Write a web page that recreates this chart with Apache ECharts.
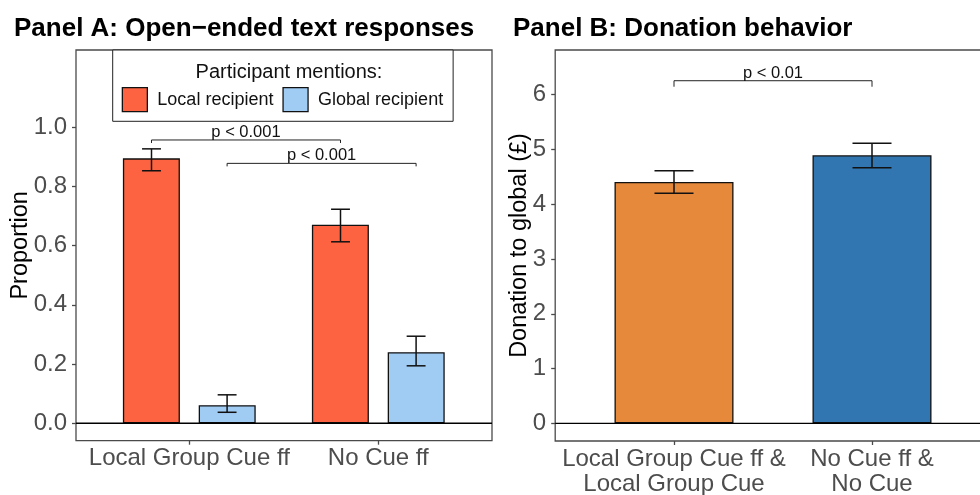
<!DOCTYPE html>
<html><head><meta charset="utf-8">
<script src="https://cdn.jsdelivr.net/npm/echarts@6/dist/echarts.min.js"></script>
<style>html,body{margin:0;padding:0;background:#fff}#c{width:980px;height:495px}</style>
</head><body><div id="c"></div>
<script>
// ---------- DATA ----------
const categoriesA = ['Local Group Cue ff', 'No Cue ff'];
const localMean  = [0.895, 0.671];
const localLow   = [0.853, 0.613];
const localHigh  = [0.927, 0.723];
const globalMean = [0.061, 0.240];
const globalLow  = [0.037, 0.194];
const globalHigh = [0.096, 0.294];
const yTicksA = [0, 0.2, 0.4, 0.6, 0.8, 1.0];
const sigA_series = ['Local recipient', 'Global recipient'];
const sigA_y = [0.957, 0.878];
const sigA_labels = ['p < 0.001', 'p < 0.001'];

const categoriesB = ['Local Group Cue ff &\nLocal Group Cue', 'No Cue ff &\nNo Cue'];
const donationMean = [4.406, 4.893];
const donationLow  = [4.199, 4.667];
const donationHigh = [4.612, 5.112];
const yTicksB = [0, 1, 2, 3, 4, 5, 6];
const sigB_y = [6.255];
const sigB_labels = ['p < 0.01'];

// ---------- STYLE ----------
const FONT = "'Liberation Sans', Arial, sans-serif";
const RED = '#FD6340', LBLUE = '#A0CCF4', ORANGE = '#E6893B', DBLUE = '#3276B1';
const FRAME = '#4a4a4a', TICKTXT = '#4D4D4D';
const A_MIN = -0.059, A_MAX = 1.261, B_MIN = -0.323, B_MAX = 6.816;
const GROUP_OFF = {'Local recipient': -0.2, 'Global recipient': 0.2};

function errRender(offFrac, capFrac) {
  return function (params, api) {
    const x = api.value(0), lo = api.value(1), hi = api.value(2);
    const band = api.size([1, 0])[0];
    const pLo = api.coord([x, lo]), pHi = api.coord([x, hi]);
    const cx = pLo[0] + offFrac * band, hw = capFrac * band;
    const st = {stroke: '#111', lineWidth: 1.5};
    return {type: 'group', children: [
      {type: 'line', shape: {x1: cx, y1: pLo[1], x2: cx, y2: pHi[1]}, style: st},
      {type: 'line', shape: {x1: cx - hw, y1: pLo[1], x2: cx + hw, y2: pLo[1]}, style: st},
      {type: 'line', shape: {x1: cx - hw, y1: pHi[1], x2: cx + hw, y2: pHi[1]}, style: st}
    ]};
  };
}
function sigRender(offs, labels, tip, fs) {
  return function (params, api) {
    const i = params.dataIndex;
    const y = api.value(2);
    const band = api.size([1, 0])[0];
    const p1 = api.coord([api.value(0), y]), p2 = api.coord([api.value(1), y]);
    const x1 = p1[0] + offs[i] * band, x2 = p2[0] + offs[i] * band;
    const st = {stroke: '#222', lineWidth: 1};
    return {type: 'group', children: [
      {type: 'polyline', shape: {points: [[x1, p1[1] + tip], [x1, p1[1]], [x2, p1[1]], [x2, p1[1] + tip]]}, style: Object.assign({fill: null}, st)},
      {type: 'text', style: {x: (x1 + x2) / 2, y: p1[1] + 1, text: labels[i], fill: '#111', font: fs + 'px ' + FONT, align: 'center', verticalAlign: 'bottom'}}
    ]};
  };
}

const gridA_frame = {left: 76, top: 50, width: 416, height: 390.7};
const gridA_bars  = {left: 94.8, top: 50, width: 378, height: 390.7};
const gridB_frame = {left: 555.2, top: 50, width: 435.6, height: 391};
const gridB_bars  = {left: 575, top: 50, width: 396, height: 391};
const noBounds = {outerBoundsMode: 'none', containLabel: false};
const frameStyle = {show: true, borderColor: FRAME, borderWidth: 1.3, backgroundColor: 'transparent', z: 0};

const catAxisCommon = {
  axisLine: {show: false, onZero: false},
  axisTick: {show: true, alignWithLabel: true, length: 4, lineStyle: {color: FRAME, width: 1.3}}
};

const option = {
  animation: false,
  textStyle: {fontFamily: FONT},
  title: [
    {text: 'Panel A: Open\u2212ended text responses', left: 9, top: 11, textStyle: {fontSize: 26, fontWeight: 'bold', color: '#000', fontFamily: FONT}},
    {text: 'Panel B: Donation behavior', left: 508, top: 11, textStyle: {fontSize: 26, fontWeight: 'bold', color: '#000', fontFamily: FONT}},
    {text: 'Participant mentions:', left: 284, textAlign: 'center', top: 57, textStyle: {fontSize: 20, fontWeight: 'normal', color: '#111', fontFamily: FONT}}
  ],
  legend: {
    data: ['Local recipient', 'Global recipient'],
    left: 112.7, top: 50,
    padding: [37, 10, 9, 9],
    itemWidth: 25, itemHeight: 24, itemGap: 9,
    icon: 'rect',
    borderColor: '#222', borderWidth: 1, backgroundColor: '#fff',
    itemStyle: {borderColor: '#111', borderWidth: 1.3},
    textStyle: {fontSize: 18, color: '#111', fontFamily: FONT, padding: [0, 0, 0, 5]},
    selectedMode: false
  },
  grid: [
    Object.assign({}, frameStyle, noBounds, gridA_frame),
    Object.assign({}, noBounds, gridA_bars),
    Object.assign({}, frameStyle, noBounds, gridB_frame),
    Object.assign({}, noBounds, gridB_bars)
  ],
  xAxis: [
    {gridIndex: 0, type: 'value', min: 0, max: 1, show: false},
    Object.assign({gridIndex: 1, type: 'category', data: categoriesA,
     axisLabel: {fontSize: 24, color: TICKTXT, margin: 6, interval: 0, fontFamily: FONT}}, catAxisCommon),
    {gridIndex: 2, type: 'value', min: 0, max: 1, show: false},
    Object.assign({gridIndex: 3, type: 'category', data: categoriesB,
     axisLabel: {fontSize: 24, color: TICKTXT, margin: 6, interval: 0, lineHeight: 25, fontFamily: FONT}}, catAxisCommon)
  ],
  yAxis: [
    {gridIndex: 0, type: 'value', min: A_MIN, max: A_MAX, name: 'Proportion', nameLocation: 'middle', nameGap: 43, nameMoveOverlap: false,
     nameTextStyle: {fontSize: 23.5, color: '#000', fontFamily: FONT},
     axisLine: {show: false}, splitLine: {show: false},
     axisTick: {show: true, length: 4, customValues: yTicksA, lineStyle: {color: FRAME, width: 1.3}},
     axisLabel: {fontSize: 24, color: TICKTXT, margin: 9, customValues: yTicksA, formatter: v => v.toFixed(1), fontFamily: FONT}},
    {gridIndex: 1, type: 'value', min: A_MIN, max: A_MAX, show: false},
    {gridIndex: 2, type: 'value', min: B_MIN, max: B_MAX, name: 'Donation to global (\u00a3)', nameLocation: 'middle', nameGap: 23.5, nameMoveOverlap: false,
     nameTextStyle: {fontSize: 23.5, color: '#000', fontFamily: FONT},
     axisLine: {show: false}, splitLine: {show: false},
     axisTick: {show: true, length: 4, customValues: yTicksB, lineStyle: {color: FRAME, width: 1.3}},
     axisLabel: {fontSize: 24, color: TICKTXT, margin: 9, customValues: yTicksB, formatter: v => String(v), fontFamily: FONT}},
    {gridIndex: 3, type: 'value', min: B_MIN, max: B_MAX, show: false}
  ],
  series: [
    {type: 'line', xAxisIndex: 0, yAxisIndex: 0, data: [[0, 0], [1, 0]], symbol: 'none', silent: true,
     lineStyle: {color: '#000', width: 1.3}, z: 4},
    {type: 'line', xAxisIndex: 2, yAxisIndex: 2, data: [[0, 0], [1, 0]], symbol: 'none', silent: true,
     lineStyle: {color: '#000', width: 1.3}, z: 4},
    {name: 'Local recipient', type: 'bar', xAxisIndex: 1, yAxisIndex: 1, data: localMean, barWidth: 57, barGap: '33%',
     itemStyle: {color: RED, borderColor: '#111', borderWidth: 1.3}, z: 2},
    {name: 'Global recipient', type: 'bar', xAxisIndex: 1, yAxisIndex: 1, data: globalMean, barWidth: 57, barGap: '33%',
     itemStyle: {color: LBLUE, borderColor: '#111', borderWidth: 1.3}, z: 2},
    {type: 'custom', xAxisIndex: 1, yAxisIndex: 1, renderItem: errRender(-0.2, 0.05), silent: true, z: 3,
     data: categoriesA.map((c, i) => [i, localLow[i], localHigh[i]])},
    {type: 'custom', xAxisIndex: 1, yAxisIndex: 1, renderItem: errRender(0.2, 0.05), silent: true, z: 3,
     data: categoriesA.map((c, i) => [i, globalLow[i], globalHigh[i]])},
    {type: 'custom', xAxisIndex: 1, yAxisIndex: 1, silent: true, z: 3,
     renderItem: sigRender(sigA_series.map(s => GROUP_OFF[s]), sigA_labels, 3, 16.5),
     data: sigA_y.map(y => [0, 1, y])},
    {type: 'bar', xAxisIndex: 3, yAxisIndex: 3, barWidth: 119, z: 2,
     data: donationMean.map((v, i) => ({value: v, itemStyle: {color: [ORANGE, DBLUE][i]}})),
     itemStyle: {borderColor: '#111', borderWidth: 1.3}},
    {type: 'custom', xAxisIndex: 3, yAxisIndex: 3, renderItem: errRender(0, 0.0985), silent: true, z: 3,
     data: categoriesB.map((c, i) => [i, donationLow[i], donationHigh[i]])},
    {type: 'custom', xAxisIndex: 3, yAxisIndex: 3, silent: true, z: 3,
     renderItem: sigRender([0], sigB_labels, 6, 16.5),
     data: sigB_y.map(y => [0, 1, y])}
  ]
};
const chart = echarts.init(document.getElementById('c'), null, {renderer: 'canvas'});
chart.setOption(option);
</script>
</body></html>
